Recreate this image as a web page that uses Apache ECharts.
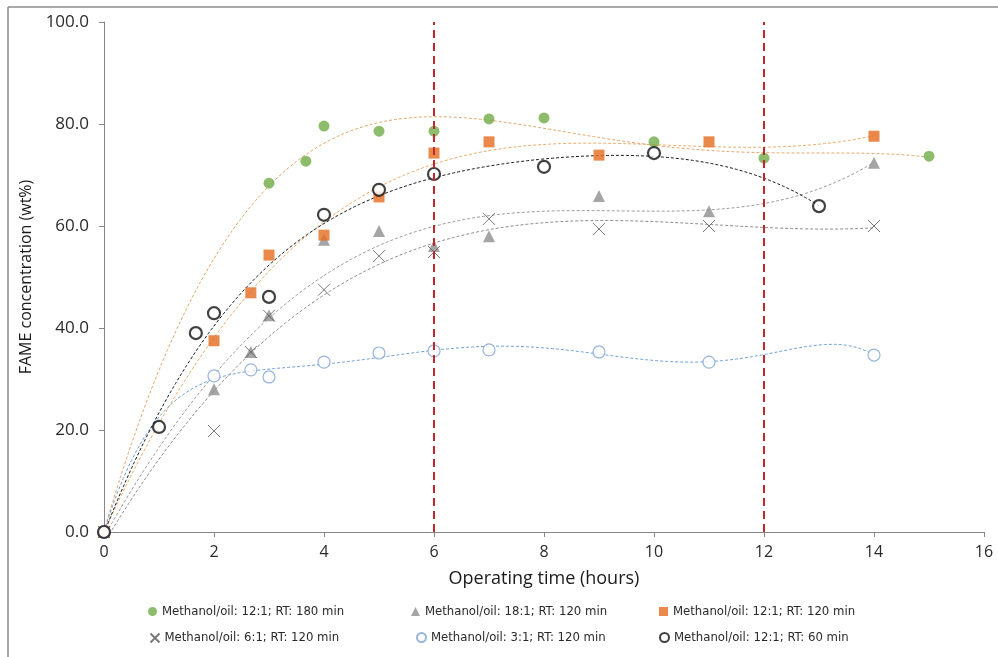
<!DOCTYPE html>
<html>
<head>
<meta charset="utf-8">
<script src="https://cdn.jsdelivr.net/npm/echarts@6/dist/echarts.min.js"></script>
<style>
  html, body { margin: 0; padding: 0; background: #fff; }
  #chart { width: 998px; height: 657px; }
</style>
</head>
<body>
<div id="chart"></div>
<script>
// Operating time (hours) and FAME concentration (wt%) for each run
const names = [
  'Methanol/oil: 12:1; RT: 180 min',
  'Methanol/oil: 18:1; RT: 120 min',
  'Methanol/oil: 12:1; RT: 120 min',
  'Methanol/oil: 6:1; RT: 120 min',
  'Methanol/oil: 3:1; RT: 120 min',
  'Methanol/oil: 12:1; RT: 60 min'
];

const timeRT180 = [0, 3, 3.67, 4, 5, 6, 7, 8, 10, 12, 15];
const fameRT180 = [0, 68.4, 72.7, 79.6, 78.6, 78.6, 81.0, 81.2, 76.5, 73.3, 73.7];

const time18to1 = [0, 2, 2.67, 3, 4, 5, 6, 7, 9, 11, 14];
const fame18to1 = [0, 28.0, 35.3, 42.5, 57.3, 59.0, 56.1, 58.0, 65.9, 62.9, 72.4];

const time12to1 = [0, 2, 2.67, 3, 4, 5, 6, 7, 9, 11, 14];
const fame12to1 = [0, 37.5, 46.9, 54.3, 58.2, 65.7, 74.3, 76.5, 73.9, 76.5, 77.6];

const time6to1 = [0, 2, 2.67, 3, 4, 5, 6, 7, 9, 11, 14];
const fame6to1 = [0, 19.8, 35.3, 42.4, 47.5, 54.1, 54.9, 61.4, 59.4, 60.0, 60.0];

const time3to1 = [0, 2, 2.67, 3, 4, 5, 6, 7, 9, 11, 14];
const fame3to1 = [0, 30.6, 31.8, 30.4, 33.3, 35.1, 35.5, 35.7, 35.3, 33.3, 34.7];

const timeRT60 = [0, 1, 1.67, 2, 3, 4, 5, 6, 8, 10, 13];
const fameRT60 = [0, 20.6, 39.0, 42.9, 46.1, 62.2, 67.1, 70.2, 71.6, 74.3, 63.9];

const xTicks = [0, 2, 4, 6, 8, 10, 12, 14, 16];
const yTicks = [0, 20, 40, 60, 80, 100];
const markedHours = [6, 12];

// Least-squares polynomial trendline
function polyFit(xs, ys, deg) {
  const s = 16;
  const n = deg + 1;
  const A = [];
  for (let i = 0; i < n; i++) { A.push(new Array(n + 1).fill(0)); }
  for (let k = 0; k < xs.length; k++) {
    const x = xs[k] / s;
    for (let i = 0; i < n; i++) {
      for (let j = 0; j < n; j++) A[i][j] += Math.pow(x, i + j);
      A[i][n] += ys[k] * Math.pow(x, i);
    }
  }
  for (let c = 0; c < n; c++) {
    let p = c;
    for (let r = c + 1; r < n; r++) if (Math.abs(A[r][c]) > Math.abs(A[p][c])) p = r;
    [A[c], A[p]] = [A[p], A[c]];
    for (let r = 0; r < n; r++) {
      if (r === c) continue;
      const f = A[r][c] / A[c][c];
      for (let j = c; j <= n; j++) A[r][j] -= f * A[c][j];
    }
  }
  const coef = A.map((row, i) => row[n] / row[i]);
  return x => coef.reduce((acc, c, i) => acc + c * Math.pow(x / s, i), 0);
}

function trendPoints(xs, ys, deg) {
  const f = polyFit(xs, ys, deg);
  const end = Math.max.apply(null, xs);
  const pts = [];
  for (let x = 0; x <= end + 1e-9; x += 0.05) pts.push([x, f(x)]);
  return pts;
}

const pairs = (xs, ys) => xs.map((x, i) => [x, ys[i]]);

const runs = [
  { name: names[0], xs: timeRT180, ys: fameRT180, deg: 4, trend: '#E3A56B',
    symbol: 'circle', size: 11, item: { color: '#70AD47' } },
  { name: names[1], xs: time18to1, ys: fame18to1, deg: 4, trend: '#9a9a9a',
    symbol: 'triangle', size: 12, item: { color: '#8F8F8F' } },
  { name: names[2], xs: time12to1, ys: fame12to1, deg: 4, trend: '#F0A868',
    symbol: 'rect', size: 11, item: { color: '#E46C1F' } },
  { name: names[3], xs: time6to1, ys: fame6to1, deg: 3, trend: '#8a8a8a',
    symbol: 'path://M0,0L10,10M10,0L0,10', size: 12,
    item: { color: 'none', borderColor: '#5a5a5a', borderWidth: 1 } },
  { name: names[4], xs: time3to1, ys: fame3to1, deg: 6, trend: '#6F9FD8',
    symbol: 'circle', size: 12,
    item: { color: '#fff', borderColor: '#7FA1D4', borderWidth: 1.2 } },
  { name: names[5], xs: timeRT60, ys: fameRT60, deg: 4, trend: '#1a1a1a',
    symbol: 'circle', size: 12,
    item: { color: '#fff', borderColor: '#111', borderWidth: 2.2 } }
];

const series = [];
runs.forEach(r => {
  series.push({
    name: r.name + ' (trend)',
    type: 'line',
    data: trendPoints(r.xs, r.ys, r.deg),
    showSymbol: false,
    symbol: 'none',
    silent: true,
    z: 1,
    lineStyle: { color: r.trend, width: 1, type: [3, 2] }
  });
});

// Red dashed reference lines at the marked operating hours
series.push({
  name: 'markers',
  type: 'line',
  data: [],
  z: 2,
  markLine: {
    silent: true,
    symbol: 'none',
    label: { show: false },
    lineStyle: { color: '#C0282D', width: 2, type: [8, 5] },
    data: markedHours.map(h => ({ xAxis: h }))
  }
});

runs.forEach(r => {
  series.push({
    name: r.name,
    type: 'scatter',
    data: pairs(r.xs, r.ys),
    symbol: r.symbol,
    symbolSize: r.size,
    z: 3,
    itemStyle: r.item
  });
});

const legendFont = { fontSize: 13, fontFamily: '"DejaVu Sans Condensed", "Liberation Sans Narrow", "Open Sans", sans-serif', color: '#2a2a2a' };
const legendPos = [
  [148, 605], [411, 605], [659, 605],
  [148, 631], [416, 631], [659, 631]
];
const legends = names.map((nm, i) => ({
  data: [nm],
  left: legendPos[i][0],
  top: legendPos[i][1],
  padding: 0,
  itemWidth: 9,
  itemHeight: 9,
  itemGap: 4,
  textStyle: legendFont,
  selectedMode: false
}));

const chart = echarts.init(document.getElementById('chart'), null, { renderer: 'canvas' });
chart.setOption({
  backgroundColor: '#fff',
  animation: false,
  grid: { left: 104, right: 14, top: 22, bottom: 125 },
  xAxis: {
    type: 'value', min: 0, max: 16, interval: 2,
    name: 'Operating time (hours)',
    nameLocation: 'middle', nameGap: 38,
    nameTextStyle: { fontSize: 18, fontFamily: 'Open Sans', color: '#1a1a1a' },
    axisLine: { lineStyle: { color: '#868686', width: 1 } },
    axisTick: { show: true, length: 5, lineStyle: { color: '#868686' } },
    axisLabel: { fontSize: 16, fontFamily: 'Open Sans', color: '#2a2a2a', margin: 12,
      formatter: v => xTicks.includes(v) ? String(v) : '' },
    splitLine: { show: false }
  },
  yAxis: {
    type: 'value', min: 0, max: 100, interval: 20,
    name: 'FAME concentration (wt%)',
    nameLocation: 'middle', nameGap: 52,
    nameTextStyle: { fontSize: 16, fontFamily: 'Open Sans', color: '#1a1a1a' },
    axisLine: { show: true, lineStyle: { color: '#868686', width: 1 } },
    axisTick: { show: true, length: 5, lineStyle: { color: '#868686' } },
    axisLabel: { fontSize: 17, fontFamily: 'Open Sans', color: '#2a2a2a', margin: 15,
      formatter: v => yTicks.includes(v) ? v.toFixed(1) : '' },
    splitLine: { show: false }
  },
  legend: legends,
  graphic: [
    { type: 'line', shape: { x1: 8, y1: 7, x2: 998, y2: 7 }, style: { stroke: '#8c8c8c', lineWidth: 1.5 } },
    { type: 'line', shape: { x1: 8, y1: 7, x2: 8, y2: 657 }, style: { stroke: '#8c8c8c', lineWidth: 1.5 } }
  ],
  series: series
});
</script>
</body>
</html>
